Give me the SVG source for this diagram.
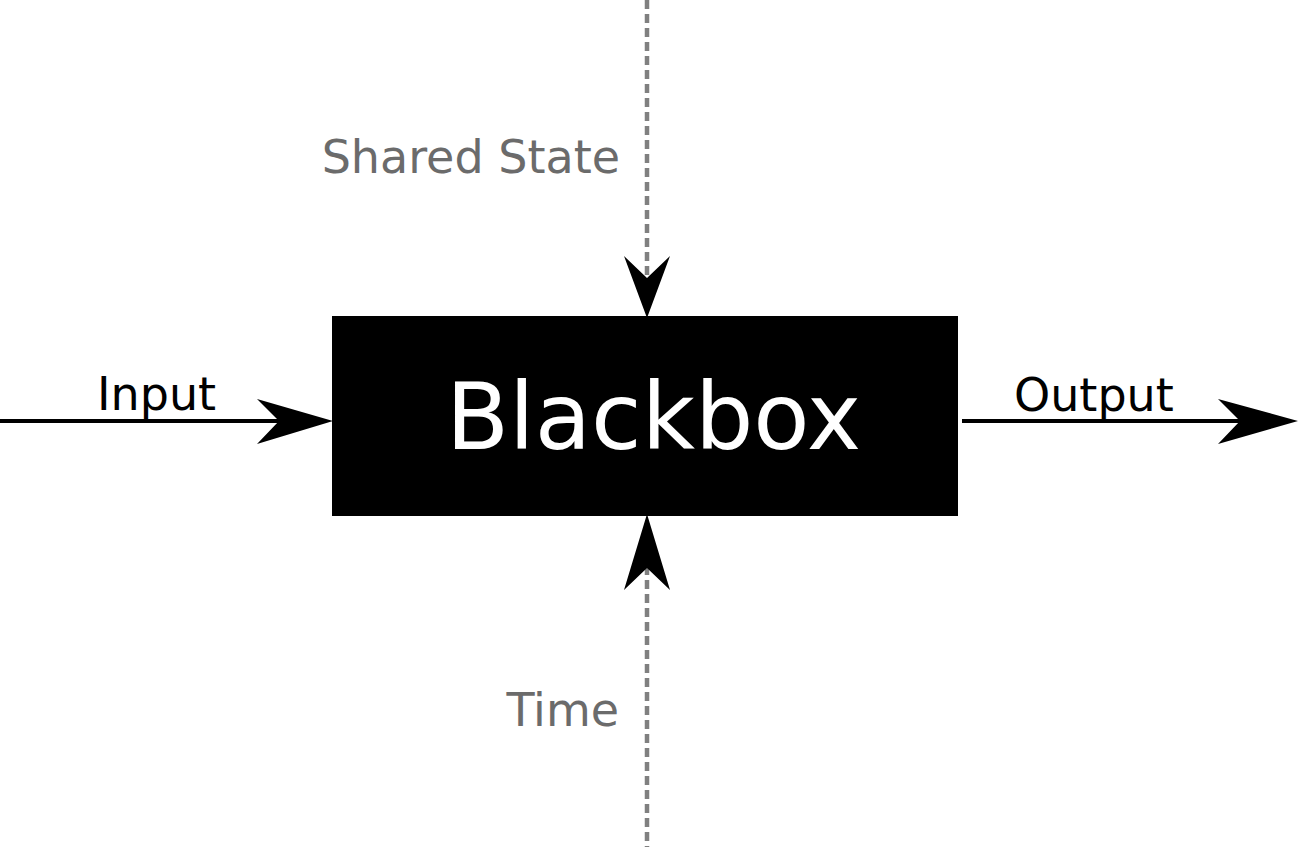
<svg xmlns="http://www.w3.org/2000/svg" width="1299" height="847" viewBox="0 0 1299 847">
<style>
.lbl{font-family:"DejaVu Sans","Liberation Sans",sans-serif;}
.gray{fill:#6b6b6b;font-size:46px;}
.blk{fill:#000;font-size:46px;}
.line{stroke:#000;stroke-width:4;fill:none;}
.dash{stroke:#808080;stroke-width:4.5;stroke-dasharray:9 5;fill:none;}
.head{fill:#000;}
</style>
<rect width="1299" height="847" fill="#fff"/>
<g id="connectors">
<line class="dash" x1="647" y1="0" x2="647" y2="280"/>
<line class="dash" x1="647" y1="566" x2="647" y2="847"/>
<line class="line" x1="0" y1="421" x2="282" y2="421"/>
<line class="line" x1="962" y1="421" x2="1244" y2="421"/>
<path class="head" d="M333,421 L257,399 L279,421 L257,444 Z"/>
<path class="head" d="M1298,421 L1218,399 L1240,421 L1218,444 Z"/>
<path class="head" d="M647,318 L624,256 L647,278 L670,256 Z"/>
<path class="head" d="M647,514 L624,590 L647,568 L670,590 Z"/>
</g>
<g id="blackbox">
<rect x="332" y="316" width="626" height="200" fill="#000"/>
<text class="lbl" x="446" y="449" font-size="92" fill="#fff">Blackbox</text>
</g>
<g id="input"><text class="lbl blk" x="97" y="410">Input</text></g>
<g id="output"><text class="lbl blk" x="1014" y="411">Output</text></g>
<g id="shared-state"><text class="lbl gray" x="620" y="173" text-anchor="end">Shared State</text></g>
<g id="time"><text class="lbl gray" x="619" y="726" text-anchor="end">Time</text></g>
</svg>
